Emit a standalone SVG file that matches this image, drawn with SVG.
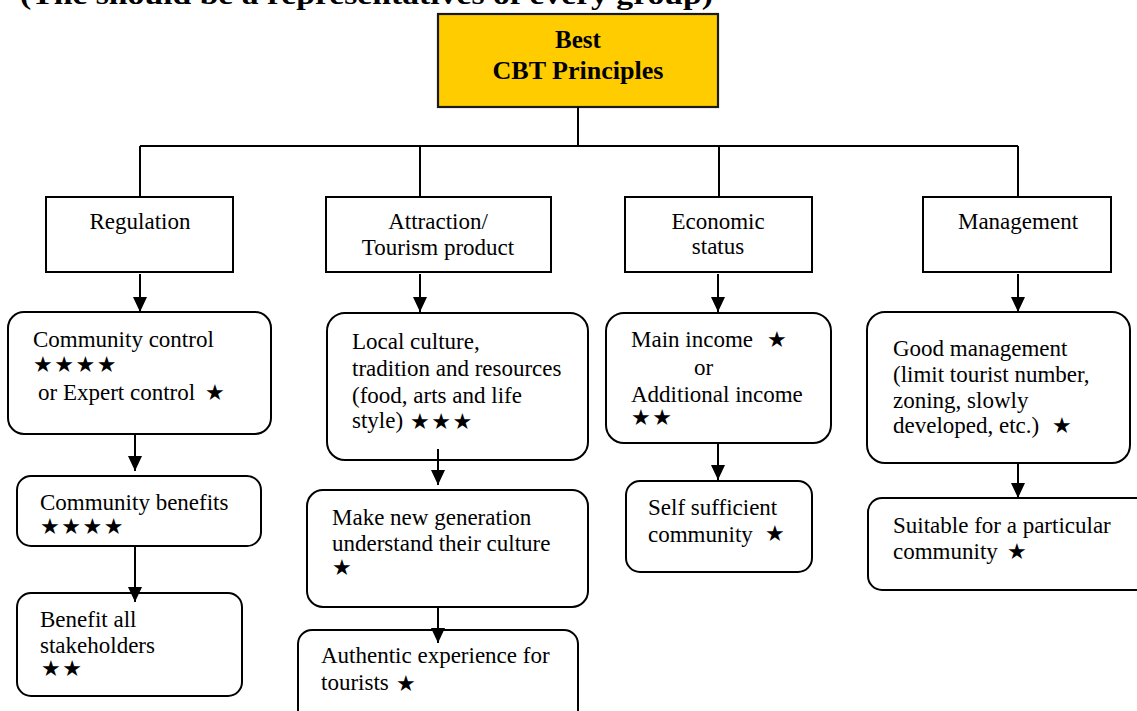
<svg xmlns="http://www.w3.org/2000/svg" width="1137" height="711" viewBox="0 0 1137 711">
  <style>
    .box { fill: #ffffff; stroke: #000000; stroke-width: 2; }
    .head { fill: #ffcc00; stroke: #1a1a1a; stroke-width: 2.2; }
    .t { font-family: "Liberation Serif", "Times New Roman", serif; font-size: 23px; fill: #000; }
    .tb { font-family: "Liberation Serif", "Times New Roman", serif; font-size: 25px; font-weight: bold; fill: #000; }
    .mid { text-anchor: middle; }
    .star { font-family: "DejaVu Sans", sans-serif; font-size: 22px; letter-spacing: 1.5px; fill: #000; }
    .ln { fill: none; stroke: #000; stroke-width: 2; }
  </style>
  <defs>
    <marker id="arrow" markerUnits="userSpaceOnUse" markerWidth="16" markerHeight="14" viewBox="0 0 16 14" refX="15" refY="7" orient="auto">
      <path d="M0,0 L15,7 L0,14 Z" fill="#000"/>
    </marker>
  </defs>
  <rect width="1137" height="711" fill="#ffffff"/>

  <!-- heading line, partly above the page edge -->
  <text x="20" y="4" font-family="Liberation Serif, serif" font-size="28" font-weight="bold" textLength="693" lengthAdjust="spacingAndGlyphs">(The should be a representatives of every group)</text>

  <!-- root -->
  <g id="best-cbt-principles">
    <rect class="head" x="438" y="14" width="280" height="93"/>
    <text class="tb mid" x="578" y="48">Best</text>
    <text class="tb mid" x="578" y="79" textLength="171" lengthAdjust="spacingAndGlyphs">CBT Principles</text>
  </g>

  <!-- categories -->
  <g id="regulation">
    <rect class="box" x="46" y="197" width="187" height="75"/>
    <text class="t mid" x="140" y="229">Regulation</text>
  </g>
  <g id="attraction">
    <rect class="box" x="326" y="197" width="225" height="75"/>
    <text class="t mid" x="438" y="229">Attraction/</text>
    <text class="t mid" x="438" y="255">Tourism product</text>
  </g>
  <g id="economic-status">
    <rect class="box" x="625" y="197" width="187" height="75"/>
    <text class="t mid" x="718" y="229">Economic</text>
    <text class="t mid" x="718" y="254">status</text>
  </g>
  <g id="management">
    <rect class="box" x="923" y="197" width="188" height="75"/>
    <text class="t mid" x="1018" y="229">Management</text>
  </g>

  <!-- regulation column -->
  <g id="community-control">
    <rect class="box" x="8" y="312" width="263" height="122" rx="16"/>
    <text class="t" x="33" y="347">Community control</text>
    <text class="star" x="33" y="372">★★★★</text>
    <text class="t" x="38" y="400">or Expert control</text>
    <text class="star" x="205" y="400">★</text>
  </g>
  <g id="community-benefits">
    <rect class="box" x="17" y="476" width="244" height="70" rx="14"/>
    <text class="t" x="40" y="510">Community benefits</text>
    <text class="star" x="40" y="534">★★★★</text>
  </g>
  <g id="benefit-all-stakeholders">
    <rect class="box" x="17" y="593" width="225" height="103" rx="14"/>
    <text class="t" x="40" y="627">Benefit all</text>
    <text class="t" x="40" y="653">stakeholders</text>
    <text class="star" x="41" y="676">★★</text>
  </g>

  <!-- attraction column -->
  <g id="local-culture">
    <rect class="box" x="327" y="313" width="261" height="147" rx="18"/>
    <text class="t" x="352" y="349">Local culture,</text>
    <text class="t" x="352" y="376">tradition and resources</text>
    <text class="t" x="352" y="403">(food, arts and life</text>
    <text class="t" x="352" y="428">style)</text>
    <text class="star" x="410" y="429">★★★</text>
  </g>
  <g id="new-generation">
    <rect class="box" x="307" y="490" width="281" height="117" rx="16"/>
    <text class="t" x="332" y="525">Make new generation</text>
    <text class="t" x="332" y="551">understand their culture</text>
    <text class="star" x="332" y="575">★</text>
  </g>
  <g id="authentic-experience">
    <rect class="box" x="298" y="630" width="280" height="100" rx="14"/>
    <text class="t" x="321" y="663">Authentic experience for</text>
    <text class="t" x="321" y="690">tourists</text>
    <text class="star" x="396" y="691">★</text>
  </g>

  <!-- economic column -->
  <g id="income">
    <rect class="box" x="606" y="313" width="225" height="130" rx="18"/>
    <text class="t" x="631" y="347">Main income</text>
    <text class="star" x="767" y="347">★</text>
    <text class="t" x="694" y="375">or</text>
    <text class="t" x="631" y="402">Additional income</text>
    <text class="star" x="631" y="425">★★</text>
  </g>
  <g id="self-sufficient">
    <rect class="box" x="626" y="481" width="186" height="91" rx="14"/>
    <text class="t" x="648" y="515">Self sufficient</text>
    <text class="t" x="648" y="542">community</text>
    <text class="star" x="765" y="541">★</text>
  </g>

  <!-- management column -->
  <g id="good-management">
    <rect class="box" x="867" y="312" width="263" height="151" rx="18"/>
    <text class="t" x="893" y="356">Good management</text>
    <text class="t" x="893" y="382">(limit tourist number,</text>
    <text class="t" x="893" y="408">zoning, slowly</text>
    <text class="t" x="893" y="433">developed, etc.)</text>
    <text class="star" x="1052" y="433">★</text>
  </g>
  <g id="suitable-community">
    <rect class="box" x="868" y="498" width="290" height="92" rx="14"/>
    <text class="t" x="893" y="533">Suitable for a particular</text>
    <text class="t" x="893" y="559">community</text>
    <text class="star" x="1007" y="559">★</text>
  </g>

  <!-- connectors, drawn last so arrowheads sit over box edges -->
  <g id="connectors">
    <path class="ln" d="M578,107 V146 M140,146 H1018 M140,146 V197 M420,146 V197 M719,146 V197 M1018,146 V197"/>
    <line x1="140" y1="274" x2="140" y2="312" class="ln" marker-end="url(#arrow)"/>
    <line x1="135" y1="434" x2="135" y2="471" class="ln" marker-end="url(#arrow)"/>
    <line x1="135" y1="546" x2="135" y2="602" class="ln" marker-end="url(#arrow)"/>
    <line x1="420" y1="274" x2="420" y2="312" class="ln" marker-end="url(#arrow)"/>
    <line x1="438" y1="449" x2="438" y2="485" class="ln" marker-end="url(#arrow)"/>
    <line x1="438" y1="607" x2="438" y2="643" class="ln" marker-end="url(#arrow)"/>
    <line x1="718" y1="274" x2="718" y2="312" class="ln" marker-end="url(#arrow)"/>
    <line x1="718" y1="443" x2="718" y2="480" class="ln" marker-end="url(#arrow)"/>
    <line x1="1018" y1="274" x2="1018" y2="312" class="ln" marker-end="url(#arrow)"/>
    <line x1="1018" y1="463" x2="1018" y2="498" class="ln" marker-end="url(#arrow)"/>
  </g>
</svg>
